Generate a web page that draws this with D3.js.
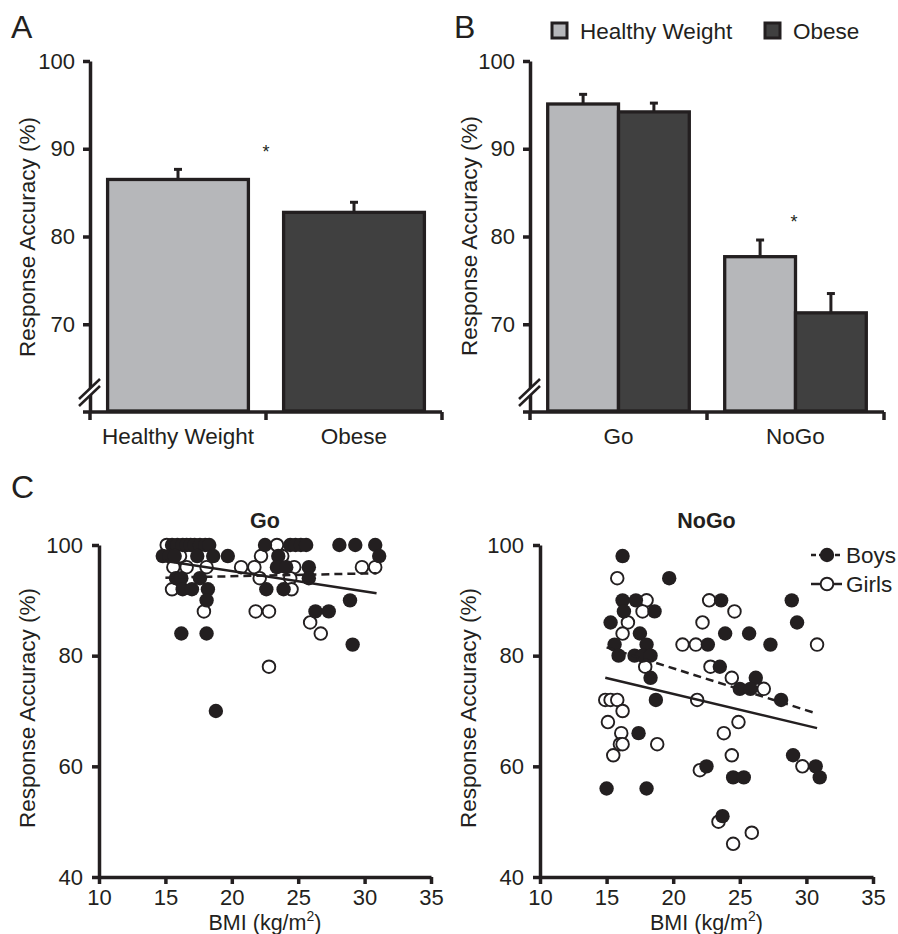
<!DOCTYPE html>
<html><head><meta charset="utf-8">
<script src="https://cdn.jsdelivr.net/npm/d3@7"></script>
<style>
body{margin:0;background:#fff}
svg{display:block}
text{font-family:"Liberation Sans",Arial,sans-serif;fill:#231f20}
</style>
</head><body>
<svg id="c" width="898" height="934"></svg>
<script>
// ---------------- DATA ----------------
const barTicks = [70, 80, 90, 100];
// Panel A
const groupsA = ["Healthy Weight", "Obese"];
const meansA = [86.5, 82.75];
const errA = [1.15, 1.15];
// Panel B
const tasksB = ["Go", "NoGo"];
const weightGroups = ["Healthy Weight", "Obese"];
const meansHW = [95.1, 77.7];
const meansOB = [94.2, 71.3];
const errHW = [1.1, 1.9];
const errOB = [1.0, 2.2];
// Panel C
const scatterXTicks = [10, 15, 20, 25, 30, 35];
const scatterYTicks = [40, 60, 80, 100];
const goBoys = [[15.5,100],[15.9,100],[16.3,100],[16.6,100],[16.9,100],[17.2,100],[17.6,100],[18.0,100],[18.3,100],[22.5,100],[24.4,100],[24.8,100],[25.2,100],[25.6,100],[28.1,100],[29.3,100],[30.8,100],
  [14.8,98],[15.3,98],[15.7,98],[17.4,98],[18.6,98],[19.7,98],[23.5,98],[31.1,98],
  [23.4,96],[24.1,96],[25.8,96],
  [15.8,94],[16.2,94],[17.6,94],[25.8,94],
  [16.3,92],[17.0,92],[18.2,92],[22.6,92],[23.9,92],
  [18.1,90],[28.9,90],[26.3,88],[27.3,88],[16.2,84],[18.1,84],[29.1,82],[18.8,70]];
const goGirls = [[15.1,100],[23.4,100],[16.1,98],[22.2,98],[23.8,98],
  [15.6,96],[16.6,96],[18.1,96],[20.7,96],[21.7,96],[24.7,96],[29.8,96],[30.8,96],
  [22.1,94],[24.4,94],[15.5,92],[24.5,92],[17.9,88],[21.8,88],[22.8,88],[25.9,86],[26.7,84],[22.8,78]];
const nogoBoys = [[16.2,98],[19.7,94],[16.2,90],[17.2,90],[23.6,90],[28.9,90],[16.3,88],[18.6,88],[15.3,86],[29.3,86],
  [17.5,84],[23.9,84],[25.7,84],[15.6,82],[18.0,82],[22.6,82],[27.3,82],[15.9,80],[17.1,80],[17.7,80],[18.3,80],
  [23.5,78],[18.3,76],[26.2,76],[25.0,74],[25.8,74],[18.7,72],[28.1,72],[17.4,66],[29.0,62],[22.5,60],[30.7,60],
  [24.5,58],[25.3,58],[31.0,58],[15.0,56],[18.0,56],[23.7,51]];
const nogoGirls = [[15.8,94],[18.0,90],[22.7,90],[17.7,88],[24.6,88],[16.6,86],[22.2,86],[16.2,84],[20.7,82],[21.7,82],[30.8,82],
  [17.9,78],[22.8,78],[24.4,76],[26.8,74],[14.9,72],[15.3,72],[15.8,72],[21.8,72],[16.2,70],[15.1,68],[24.9,68],
  [16.1,66],[23.8,66],[16.0,64],[16.2,64],[18.8,64],[15.5,62],[24.4,62],[22.0,59.3],[29.7,60],[23.4,50],[25.9,48],[24.5,46]];
const goBoysFit = [[15.0,94.1],[30.9,94.9]];
const goGirlsFit = [[15.0,97.1],[30.9,91.3]];
const nogoBoysFit = [[15.0,81.5],[30.7,69.6]];
const nogoGirlsFit = [[14.9,76.0],[30.8,66.9]];
const legendC = ["Boys", "Girls"];

// ---------------- DRAWING ----------------
const ink = "#231f20", light = "#b6b7ba", dark = "#404040";
const FS = 22, LFS = 22.5;
const svg = d3.select("#c");

function styleAxis(g, w) {
  g.attr("font-family", null).attr("font-size", null);
  g.selectAll("path,line").attr("stroke", ink).attr("stroke-width", w);
  g.selectAll("text").attr("font-size", FS).attr("fill", ink);
}
function yLabel(x, y) {
  svg.append("text").attr("transform", `translate(${x},${y}) rotate(-90)`)
    .attr("text-anchor", "middle").attr("font-size", LFS).text("Response Accuracy (%)");
}
function axisBreak(x, c) {
  svg.append("polygon").attr("points", `${x-11},${c+10} ${x+10},${c-10} ${x+10},${c-17} ${x-11},${c+3}`).attr("fill", "#fff");
  [0, -7].forEach(o => svg.append("line").attr("x1", x-11).attr("y1", c+10+o).attr("x2", x+10).attr("y2", c-10+o)
    .attr("stroke", ink).attr("stroke-width", 2.5));
}

const yBar = d3.scaleLinear().domain([60, 100]).range([412, 61]);

function barFrame(x0, x1, band, cats) {
  const g = svg.append("g").attr("transform", `translate(${x0},0)`)
    .call(d3.axisLeft(yBar).tickValues(barTicks).tickSize(7).tickSizeOuter(0).tickPadding(8));
  styleAxis(g, 3.5);
  axisBreak(x0, 396);
  svg.append("line").attr("x1", x0-7).attr("x2", x1).attr("y1", 412).attr("y2", 412).attr("stroke", ink).attr("stroke-width", 3.5);
  const step = band.step(), r0 = band.range()[0];
  d3.range(cats.length + 1).forEach(k => svg.append("line").attr("x1", r0 + k*step).attr("x2", r0 + k*step)
    .attr("y1", 412).attr("y2", 420).attr("stroke", ink).attr("stroke-width", 3.5));
  cats.forEach(c => svg.append("text").attr("x", band(c) + band.bandwidth()/2).attr("y", 444)
    .attr("text-anchor", "middle").attr("font-size", LFS).text(c));
}
function bar(x, w, v, e, fill) {
  svg.append("rect").attr("x", x).attr("y", yBar(v)).attr("width", w).attr("height", yBar(60) - yBar(v) - 1)
    .attr("fill", fill).attr("stroke", ink).attr("stroke-width", 3.3);
  const cx = x + w/2;
  svg.append("line").attr("x1", cx).attr("x2", cx).attr("y1", yBar(v)).attr("y2", yBar(v+e)).attr("stroke", ink).attr("stroke-width", 3);
  svg.append("line").attr("x1", cx-4).attr("x2", cx+4).attr("y1", yBar(v+e)).attr("y2", yBar(v+e)).attr("stroke", ink).attr("stroke-width", 3);
}

// Panel A
const xA = d3.scaleBand().domain(groupsA).range([90, 442]).paddingInner(0.2).paddingOuter(0.1);
barFrame(90, 442, xA, groupsA);
groupsA.forEach((c, i) => bar(xA(c), xA.bandwidth(), meansA[i], errA[i], i === 0 ? light : dark));
svg.append("text").attr("x", 266).attr("y", 158).attr("text-anchor", "middle").attr("font-size", 18).text("*");
yLabel(35, 237);
svg.append("text").attr("x", 11).attr("y", 38).attr("font-size", 32).text("A");

// Panel B
const xB = d3.scaleBand().domain(tasksB).range([530, 884]).paddingInner(0.2).paddingOuter(0.1);
const xSub = d3.scaleBand().domain(weightGroups).range([0, xB.bandwidth()]);
barFrame(530, 884, xB, tasksB);
tasksB.forEach((t, i) => {
  bar(xB(t) + xSub(weightGroups[0]), xSub.bandwidth(), meansHW[i], errHW[i], light);
  bar(xB(t) + xSub(weightGroups[1]), xSub.bandwidth(), meansOB[i], errOB[i], dark);
});
svg.append("text").attr("x", 794).attr("y", 228).attr("text-anchor", "middle").attr("font-size", 18).text("*");
yLabel(477, 236);
svg.append("text").attr("x", 454).attr("y", 38).attr("font-size", 32).text("B");
const legX = [552, 765];
weightGroups.forEach((g, i) => {
  svg.append("rect").attr("x", legX[i]).attr("y", 23).attr("width", 15).attr("height", 15)
    .attr("fill", i === 0 ? light : dark).attr("stroke", ink).attr("stroke-width", 3);
  svg.append("text").attr("x", legX[i] + 28).attr("y", 39).attr("font-size", LFS).text(g);
});

// Panel C
svg.append("text").attr("x", 11).attr("y", 498).attr("font-size", 32).text("C");
const yS = d3.scaleLinear().domain([40, 100]).range([877, 545]);
const line = d3.line();

function scatter(x0, x1, title, boys, girls, boysFit, girlsFit, legend) {
  const xS = d3.scaleLinear().domain([10, 35]).range([x0, x1]);
  const gy = svg.append("g").attr("transform", `translate(${x0},0)`)
    .call(d3.axisLeft(yS).tickValues(scatterYTicks).tickSize(7).tickSizeOuter(0).tickPadding(9));
  styleAxis(gy, 3.5);
  const gx = svg.append("g").attr("transform", `translate(0,877)`)
    .call(d3.axisBottom(xS).tickValues(scatterXTicks).tickSize(7).tickSizeOuter(0).tickPadding(5));
  styleAxis(gx, 3.5);
  const cx = (x0 + x1) / 2;
  svg.append("text").attr("x", cx).attr("y", 528).attr("text-anchor", "middle").attr("font-size", 21.5).attr("font-weight", "bold").text(title);
  const t = svg.append("text").attr("x", cx).attr("y", 930).attr("text-anchor", "middle").attr("font-size", 21.5);
  t.append("tspan").text("BMI (kg/m");
  t.append("tspan").attr("font-size", 14).attr("dy", -9).text("2");
  t.append("tspan").attr("dy", 9).text(")");
  yLabel(x0 - 64, 708);
  svg.append("g").selectAll("circle").data(girls).join("circle")
    .attr("cx", d => xS(d[0])).attr("cy", d => yS(d[1])).attr("r", 6.3)
    .attr("fill", "#fff").attr("stroke", ink).attr("stroke-width", 1.9);
  svg.append("g").selectAll("circle").data(boys).join("circle")
    .attr("cx", d => xS(d[0])).attr("cy", d => yS(d[1])).attr("r", 7.2).attr("fill", ink);
  svg.append("path").attr("d", line(boysFit.map(d => [xS(d[0]), yS(d[1])])))
    .attr("fill", "none").attr("stroke", ink).attr("stroke-width", 2.5).attr("stroke-dasharray", "8,5");
  svg.append("path").attr("d", line(girlsFit.map(d => [xS(d[0]), yS(d[1])])))
    .attr("fill", "none").attr("stroke", ink).attr("stroke-width", 2.5);
  if (legend) {
    legend.forEach((name, i) => {
      const ly = 555 + i * 29;
      svg.append("line").attr("x1", 811).attr("x2", 842).attr("y1", ly).attr("y2", ly)
        .attr("stroke", ink).attr("stroke-width", 2.5).attr("stroke-dasharray", i === 0 ? "5,3" : null);
      svg.append("circle").attr("cx", 827).attr("cy", ly).attr("r", i === 0 ? 7.2 : 6.3)
        .attr("fill", i === 0 ? ink : "#fff").attr("stroke", ink).attr("stroke-width", i === 0 ? 0 : 1.9);
      svg.append("text").attr("x", 846).attr("y", ly + 8).attr("font-size", LFS).text(name);
    });
  }
}
scatter(99, 431, "Go", goBoys, goGirls, goBoysFit, goGirlsFit, null);
scatter(540, 873, "NoGo", nogoBoys, nogoGirls, nogoBoysFit, nogoGirlsFit, legendC);
</script>
</body></html>
